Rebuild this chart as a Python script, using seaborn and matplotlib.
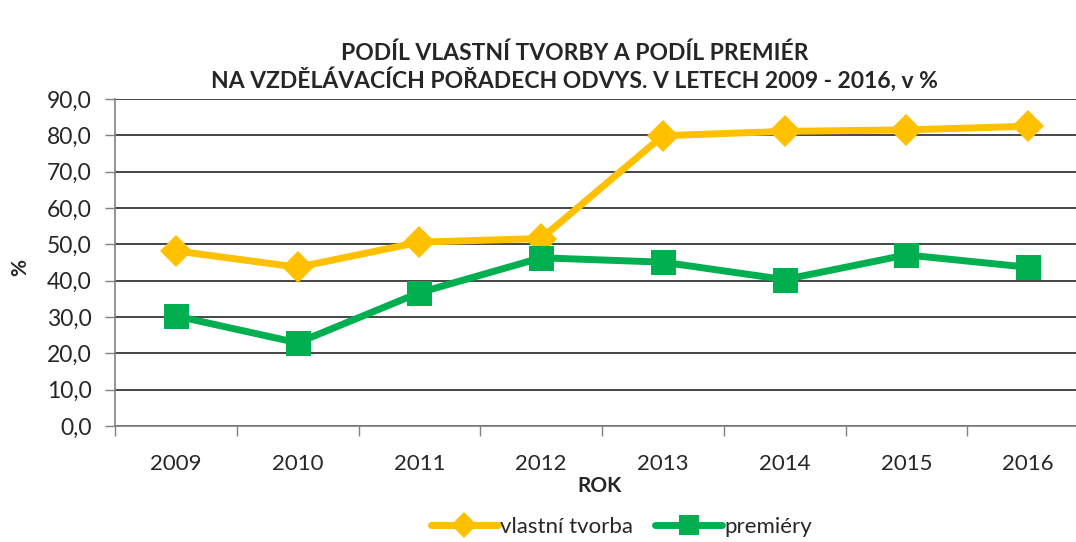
import pandas as pd
import seaborn as sns
import matplotlib.pyplot as plt
from matplotlib.ticker import FixedLocator

sns.set_theme(style="white")
plt.rcParams['font.family'] = ['Lato', 'DejaVu Sans']

# data
roky = ["2009", "2010", "2011", "2012", "2013", "2014", "2015", "2016"]
vlastni_tvorba = [48.2, 43.7, 50.6, 51.6, 79.9, 81.1, 81.5, 82.5]
premiery = [30.3, 22.9, 36.7, 46.3, 45.1, 40.3, 47.1, 43.7]

df = pd.DataFrame({"rok": roky, "vlastní tvorba": vlastni_tvorba, "premiéry": premiery})

fig = plt.figure(figsize=(10.76, 5.42), dpi=100)
ax = fig.add_axes([0.1069, 0.214, 0.9052, 0.6033])

sns.lineplot(data=df, x="rok", y="vlastní tvorba", ax=ax, color="#FFC000",
             linewidth=5, marker="D", markersize=16, markeredgewidth=0,
             label="vlastní tvorba", sort=False)
sns.lineplot(data=df, x="rok", y="premiéry", ax=ax, color="#00B050",
             linewidth=5, marker="s", markersize=18, markeredgewidth=0,
             label="premiéry", sort=False)

ax.set_xlim(-0.5, 7.5)
ax.set_ylim(0, 90)
ax.set_yticks(range(0, 91, 10))
ax.set_yticklabels([f"{v},0" for v in range(0, 91, 10)], fontsize=16.5)
ax.tick_params(axis="x", which="major", length=0, labelsize=16, pad=20)
ax.xaxis.set_minor_locator(FixedLocator([i - 0.5 for i in range(9)]))
ax.tick_params(axis="x", which="minor", length=7, width=1, color="#808080", direction="out", bottom=True)
ax.tick_params(axis="y", length=7, width=1, color="#808080", direction="out", left=True, pad=10)

ax.grid(axis="y", color="#262626", linewidth=1.2)
ax.set_axisbelow(True)
for s in ["top", "right"]:
    ax.spines[s].set_visible(False)
for s in ["left", "bottom"]:
    ax.spines[s].set_color("#808080")
    ax.spines[s].set_linewidth(1.2)

ax.set_xlabel("")
ax.set_ylabel("")
fig.text(600 / 1076, 1 - 486 / 542, "ROK", ha="center", va="center", fontsize=15, fontweight="bold")
fig.text(20 / 1076, 1 - 268 / 542, "%", ha="center", va="center", fontsize=15, fontweight="bold", rotation=90)

fig.text(0.534, 1 - 67 / 542, "PODÍL VLASTNÍ TVORBY A PODÍL PREMIÉR\nNA VZDĚLÁVACÍCH POŘADECH ODVYS. V LETECH 2009 - 2016, v %",
         ha="center", va="center", fontsize=16.5, fontweight="bold", linespacing=1.12)

ax.legend(loc="center", bbox_to_anchor=(0.52, -0.309), bbox_transform=ax.transAxes,
          ncol=2, frameon=False, fontsize=16, handlelength=3, handletextpad=0.1,
          columnspacing=1.0, markerscale=0.8)

fig.savefig("out.png", dpi=100)
